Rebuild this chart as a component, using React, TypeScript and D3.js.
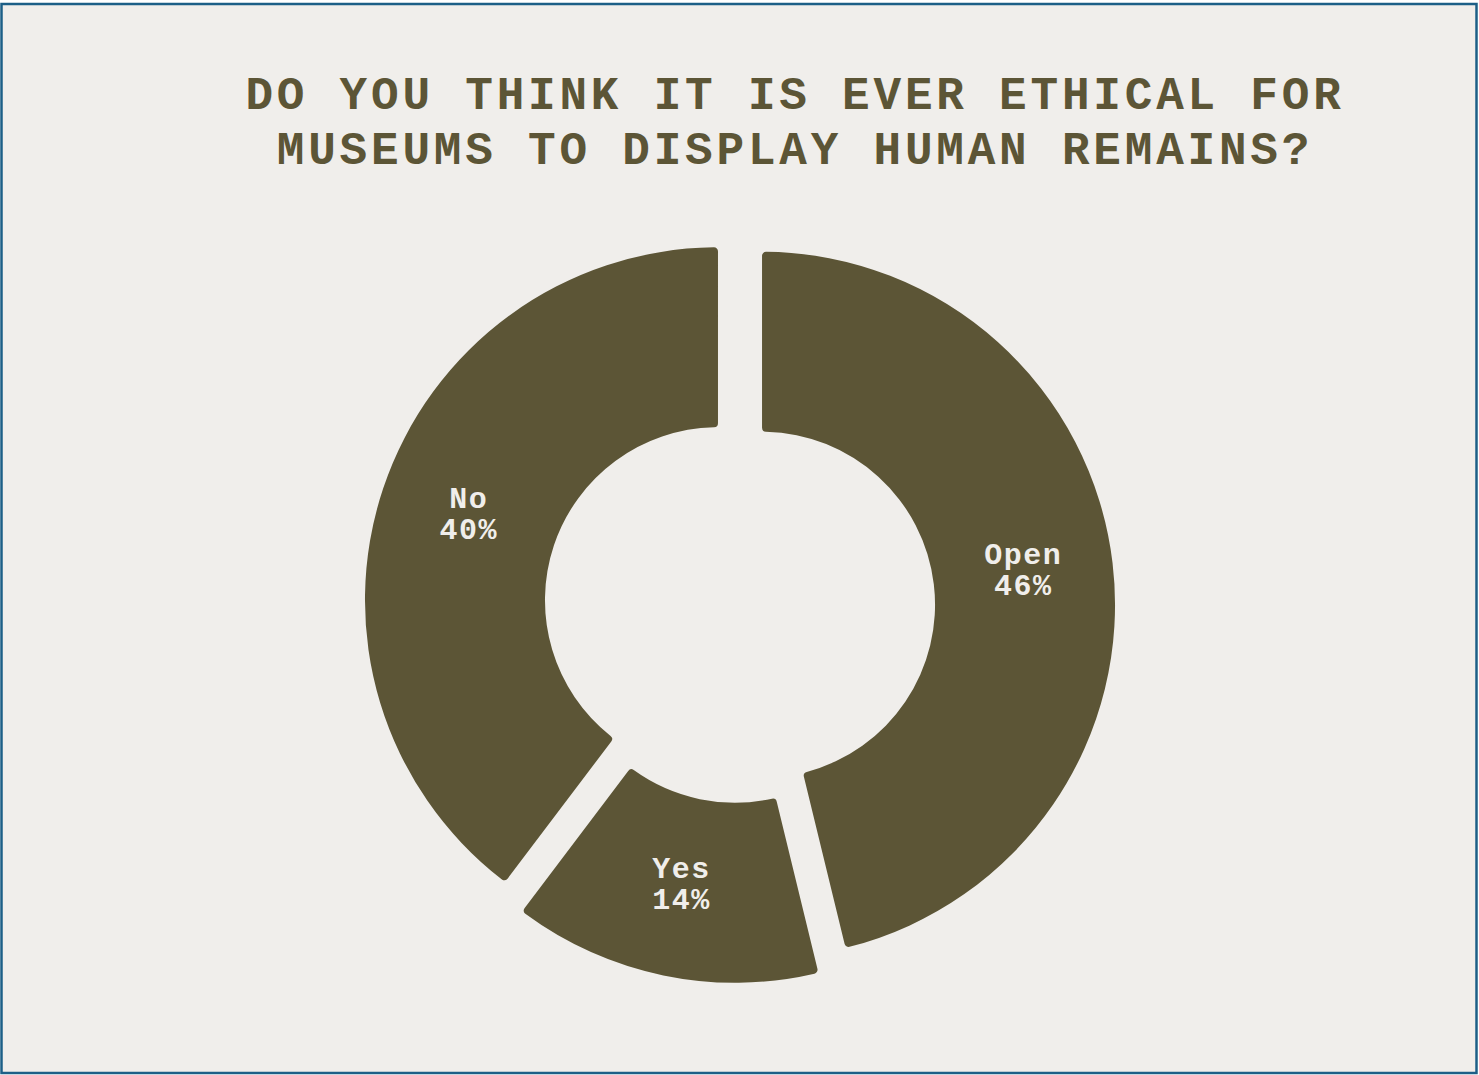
import React from "react";
import * as d3 from "d3";

const categories = ["Open", "Yes", "No"];
const values = [46.2, 14.1, 39.7];
const titleLines = ["DO YOU THINK IT IS EVER ETHICAL FOR", "MUSEUMS TO DISPLAY HUMAN REMAINS?"];

const W = 1479;
const H = 1075;
const FONT = "'Courier New', 'Liberation Mono', monospace";
const SLICE = "#5c5536";
const BG = "#f0eeeb";

export default function App() {
  const cx = 739.5;
  const cy = 607.5;
  const rOuter = 353;
  const rInner = 173;
  const explode = 22.7;

  const total = d3.sum(values);
  const data = categories.map((c, i) => ({ name: c, value: values[i] }));
  const pie = d3.pie<any>().sort(null).value((d: any) => d.value).startAngle(0).endAngle(2 * Math.PI);
  const arcs = pie(data);
  const arc = d3.arc<any>().innerRadius(rInner).outerRadius(rOuter).cornerRadius(4);

  return (
    <div style={{ position: "absolute", left: 0, top: 0 }}>
      <svg width={W} height={H} style={{ display: "block" }}>
        <rect x={1.5} y={4} width={W - 4} height={H - 6} fill={BG} stroke="#1c5f87" strokeWidth={2.5} />
        {titleLines.map((t, i) => (
          <text
            key={i}
            x={795}
            y={109 + i * 55}
            textAnchor="middle"
            fontFamily={FONT}
            fontWeight="bold"
            fontSize={46}
            letterSpacing={3.8}
            fill={SLICE}
          >
            {t}
          </text>
        ))}
        {arcs.map((a, i) => {
          const mid = (a.startAngle + a.endAngle) / 2;
          const dx = Math.sin(mid) * explode;
          const dy = -Math.cos(mid) * explode;
          const [lx, ly] = arc.centroid(a);
          const pct = Math.round((a.data.value / total) * 100);
          return (
            <g key={i} transform={`translate(${cx + dx},${cy + dy})`}>
              <path d={arc(a) as string} fill={SLICE} />
              <text
                x={lx}
                y={ly - 9}
                textAnchor="middle"
                fontFamily={FONT}
                fontWeight="bold"
                fontSize={30}
                letterSpacing={1.5}
                fill={BG}
              >
                {a.data.name}
              </text>
              <text
                x={lx}
                y={ly + 22}
                textAnchor="middle"
                fontFamily={FONT}
                fontWeight="bold"
                fontSize={30}
                letterSpacing={1.5}
                fill={BG}
              >
                {pct + "%"}
              </text>
            </g>
          );
        })}
      </svg>
    </div>
  );
}
